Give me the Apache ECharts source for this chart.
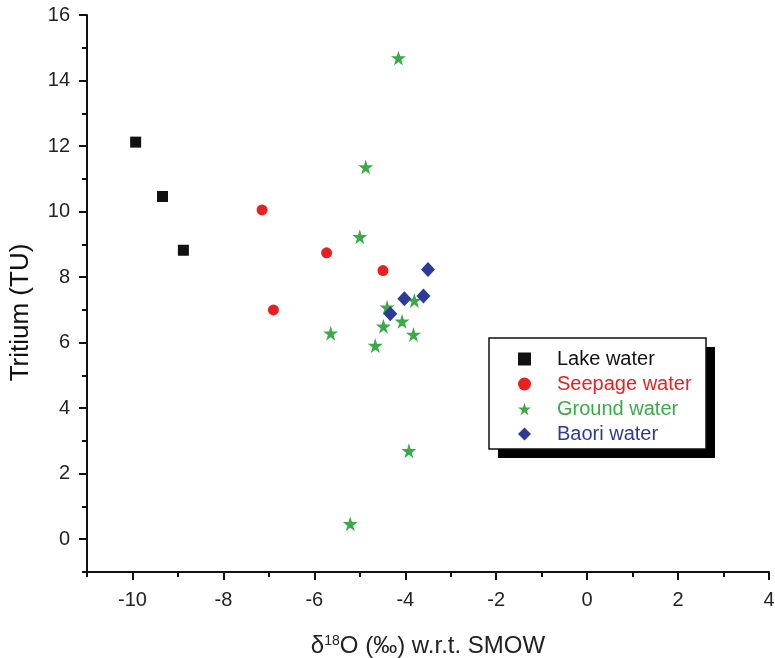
<!DOCTYPE html>
<html>
<head>
    <meta charset="utf-8">
    <title>Tritium vs d18O</title>
    <script src="https://cdn.jsdelivr.net/npm/echarts@6/dist/echarts.min.js"></script>
    <style>
        body { margin: 0; background: #fff; }
    </style>
</head>
<body>
    <div id="main" style="width: 775px;height:658px;"></div>
    <script type="text/javascript">
        var font = 'Liberation Sans, Arial, sans-serif';

        // [d18O, tritium] pairs
        var lakeWater = [[-9.93, 12.12], [-9.34, 10.46], [-8.88, 8.82]];
        var seepageWater = [[-7.15, 10.05], [-5.73, 8.74], [-4.49, 8.20], [-6.90, 7.00]];
        var groundWater = [
            [-4.15, 14.69], [-4.87, 11.36], [-5.00, 9.23], [-5.64, 6.29],
            [-4.40, 7.08], [-3.80, 7.29], [-4.48, 6.50], [-4.07, 6.65],
            [-3.82, 6.25], [-4.66, 5.91], [-3.92, 2.70], [-5.21, 0.47]
        ];
        var baoriWater = [[-3.50, 8.23], [-4.02, 7.34], [-3.60, 7.42], [-4.33, 6.88]];

        var xMajor = [-10, -8, -6, -4, -2, 0, 2, 4];
        var xMinor = [-11, -9, -7, -5, -3, -1, 1, 3];
        var yMajor = [0, 2, 4, 6, 8, 10, 12, 14, 16];
        var yMinor = [-1, 1, 3, 5, 7, 9, 11, 13, 15];

        var names = ['Lake water', 'Seepage water', 'Ground water', 'Baori water'];
        var colors = ['#111111', '#e8211f', '#3aaa46', '#2d3b98'];
        var starPath = 'path://M50,0 L61,35 L98,35 L68,57 L79,91 L50,70 L21,91 L32,57 L2,35 L39,35 Z';

        var myChart = echarts.init(document.getElementById('main'));

        var option = {
            animation: false,
            backgroundColor: '#fff',
            grid: { left: 87, right: 6, top: 15, bottom: 86, containLabel: false, outerBoundsMode: 'none' },
            // legend frame with its hard drop shadow
            graphic: [{
                type: 'rect', z: 1,
                shape: { x: 498, y: 347, width: 217, height: 111 },
                style: { fill: '#000' }
            }, {
                type: 'rect', z: 2,
                shape: { x: 489, y: 338, width: 217, height: 111 },
                style: { fill: '#fff', stroke: '#111', lineWidth: 1.5 }
            }],
            legend: {
                orient: 'vertical',
                left: 489,
                top: 338,
                z: 10,
                padding: [11, 13, 7, 29],
                itemGap: 5,
                itemWidth: 13,
                itemHeight: 13,
                textStyle: { fontSize: 20, fontFamily: font, padding: [0, 0, 0, 21], lineHeight: 20 },
                data: names.map(function (n, i) {
                    return { name: n, textStyle: { color: colors[i] } };
                })
            },
            xAxis: [{
                type: 'value', min: -11, max: 4,
                position: 'bottom',
                axisLine: { onZero: false, lineStyle: { color: '#111', width: 2 } },
                axisTick: { show: true, length: 8, customValues: xMajor, lineStyle: { color: '#111', width: 2 } },
                axisLabel: { customValues: xMajor, fontSize: 20, fontFamily: font, color: '#222', margin: 18 },
                splitLine: { show: false },
                name: '{a|δ}{s|18}{a|O (‰) w.r.t. SMOW}',
                nameLocation: 'middle',
                nameGap: 62,
                nameTextStyle: {
                    rich: {
                        a: { fontSize: 24, fontFamily: font, color: '#222' },
                        s: { fontSize: 14, fontFamily: font, color: '#222', padding: [0, 0, 10, 0] }
                    }
                }
            }, {
                type: 'value', min: -11, max: 4,
                position: 'bottom',
                axisLine: { show: false, onZero: false },
                axisTick: { show: true, length: 5, customValues: xMinor, lineStyle: { color: '#111', width: 2 } },
                axisLabel: { show: false },
                splitLine: { show: false }
            }],
            yAxis: [{
                type: 'value', min: -1, max: 16,
                position: 'left',
                axisLine: { show: true, onZero: false, lineStyle: { color: '#111', width: 2 } },
                axisTick: { show: true, length: 8, customValues: yMajor, lineStyle: { color: '#111', width: 2 } },
                axisLabel: { customValues: yMajor, fontSize: 20, fontFamily: font, color: '#222', margin: 17 },
                splitLine: { show: false },
                name: 'Tritium (TU)',
                nameLocation: 'middle',
                nameRotate: 90,
                nameGap: 53,
                nameTextStyle: { fontSize: 26, fontFamily: font, color: '#111', padding: [0, 38, 0, 0] }
            }, {
                type: 'value', min: -1, max: 16,
                position: 'left',
                axisLine: { show: false, onZero: false },
                axisTick: { show: true, length: 5, customValues: yMinor, lineStyle: { color: '#111', width: 2 } },
                axisLabel: { show: false },
                splitLine: { show: false }
            }],
            series: [{
                name: names[0], type: 'scatter', data: lakeWater,
                symbol: 'rect', symbolSize: 11,
                itemStyle: { color: colors[0], opacity: 1 }
            }, {
                name: names[1], type: 'scatter', data: seepageWater,
                symbol: 'circle', symbolSize: 11,
                itemStyle: { color: colors[1], opacity: 1 }
            }, {
                name: names[2], type: 'scatter', data: groundWater,
                symbol: starPath, symbolSize: 15,
                itemStyle: { color: colors[2], opacity: 1 }
            }, {
                name: names[3], type: 'scatter', data: baoriWater,
                symbol: 'diamond', symbolSize: [14, 15],
                itemStyle: { color: colors[3], opacity: 1 }
            }]
        };

        myChart.setOption(option);
    </script>
</body>
</html>
